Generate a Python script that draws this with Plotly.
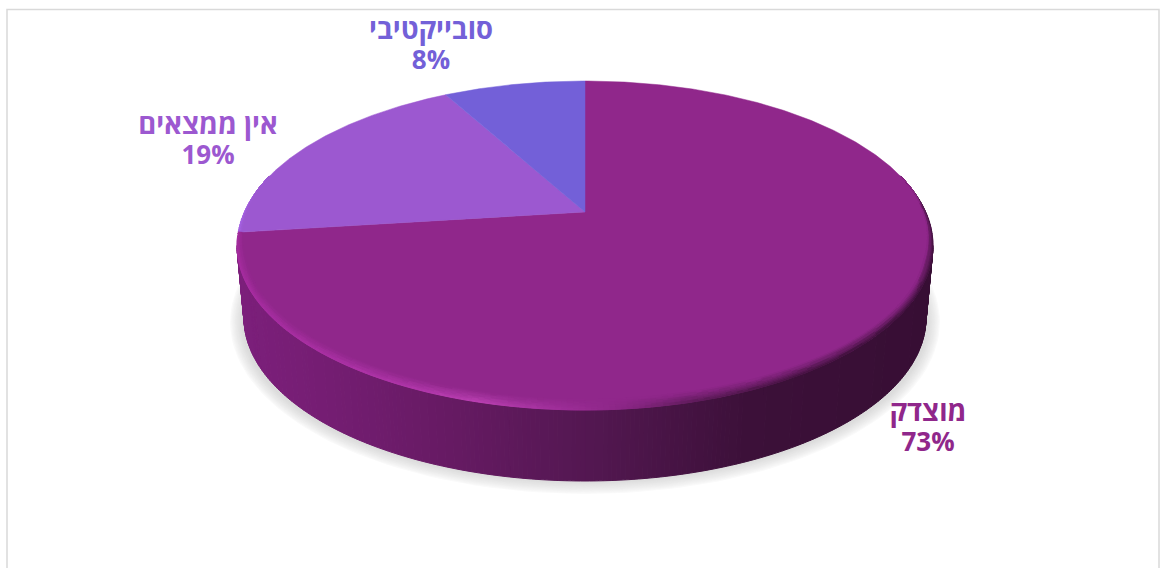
import math
import plotly.graph_objects as go

# Chart data
categories = ["מוצדק", "אין ממצאים", "סובייקטיבי"]
shares = [73, 19, 8]
slice_colors = ["#90278B", "#9C58D0", "#7360D8"]
label_positions = [(928, 430), (208, 143), (431, 48)]

# Canvas and disc geometry in screen pixels
WIDTH, HEIGHT = 1167, 568
APEX_X, APEX_Y = 585, 212
RISE_BACK, DROP_FRONT = 131, 198
TOP_RX = 348
TOP_CY, TOP_RY = (APEX_Y - RISE_BACK + APEX_Y + DROP_FRONT) / 2, (RISE_BACK + DROP_FRONT) / 2
BOTTOM_CY, BOTTOM_RX, BOTTOM_RY = 318, 341, 163

# Perspective terms that foreshorten the rear of the disc
C = (DROP_FRONT - RISE_BACK) / (DROP_FRONT + RISE_BACK)
A_Y = RISE_BACK * (1 + C)
A_X = TOP_RX * math.sqrt(1 - C * C)

WALL_STOPS = [(237, "#7C1F7B"), (330, "#741D72"), (450, "#661A63"), (600, "#521750"),
              (750, "#3C1039"), (933, "#370E34")]
RIM_STOPS = [(237, "#A92DA3"), (400, "#B236AB"), (480, "#BE42B6"), (560, "#A2309C"),
             (625, "#8A2685"), (700, "#5A1A56"), (800, "#40113C"), (933, "#3A0F37")]


def rgb(hex_color):
    return tuple(int(hex_color[i:i + 2], 16) for i in (1, 3, 5))


def to_hex(values):
    return "#%02X%02X%02X" % tuple(max(0, min(255, round(v))) for v in values)


def mix(c1, c2, f):
    a, b = rgb(c1), rgb(c2)
    return to_hex([a[i] + (b[i] - a[i]) * f for i in range(3)])


def ramp(stops, x):
    if x <= stops[0][0]:
        return stops[0][1]
    for (x0, c0), (x1, c1) in zip(stops, stops[1:]):
        if x <= x1:
            return mix(c0, c1, (x - x0) / (x1 - x0))
    return stops[-1][1]


def project(clock_deg):
    """Rim point for a clockwise angle measured from twelve o'clock."""
    a = math.radians(clock_deg)
    x, y = math.sin(a), math.cos(a)
    w = 1 + C * y
    return APEX_X + A_X * x / w, APEX_Y - A_Y * y / w


def polygon_trace(xs, ys, color, line_width=1):
    return go.Scatter(x=xs, y=ys, mode="lines", fill="toself", fillcolor=color,
                      line=dict(color=color, width=line_width), hoverinfo="skip",
                      showlegend=False)


def grouped_traces(groups):
    traces = []
    for color, quads in groups.items():
        xs, ys = [], []
        for quad in quads:
            xs += [p[0] for p in quad] + [quad[0][0], None]
            ys += [p[1] for p in quad] + [quad[0][1], None]
        traces.append(polygon_trace(xs, ys, color))
    return traces


fig = go.Figure()

# Soft ground shadow, built from the outside in
SHADOW_STEPS = 12
for k in range(SHADOW_STEPS + 1):
    f = k / SHADOW_STEPS
    rx, ry = 356 - 13 * f, 173 - 13 * f
    pts = [math.radians(d) for d in range(0, 361, 2)]
    fig.add_trace(polygon_trace([APEX_X + rx * math.cos(t) for t in pts],
                                [322 + ry * math.sin(t) for t in pts],
                                mix("#FFFFFF", "#DCDCDC", f ** 0.75), 0))

# Side wall, shaded from left to right
wall = {}
STEP = 0.75
for n in range(int(180 / STEP)):
    t0, t1 = math.radians(n * STEP), math.radians((n + 1) * STEP)
    quad = [(APEX_X + TOP_RX * math.cos(t0), TOP_CY + TOP_RY * math.sin(t0)),
            (APEX_X + TOP_RX * math.cos(t1), TOP_CY + TOP_RY * math.sin(t1)),
            (APEX_X + BOTTOM_RX * math.cos(t1), BOTTOM_CY + BOTTOM_RY * math.sin(t1)),
            (APEX_X + BOTTOM_RX * math.cos(t0), BOTTOM_CY + BOTTOM_RY * math.sin(t0))]
    wall.setdefault(ramp(WALL_STOPS, quad[0][0]), []).append(quad)
for trace in grouped_traces(wall):
    fig.add_trace(trace)

# Top face slices, clockwise from twelve o'clock
total = sum(shares)
start = 0.0
boundaries = []
for value, color in zip(shares, slice_colors):
    end = start + 360 * value / total
    boundaries.append((start, end))
    steps = max(4, int((end - start) * 2))
    rim = [project(start + (end - start) * i / steps) for i in range(steps + 1)]
    fig.add_trace(polygon_trace([APEX_X] + [p[0] for p in rim] + [APEX_X],
                                [APEX_Y] + [p[1] for p in rim] + [APEX_Y], color, 0.5))
    start = end

# Bevel along the front of the disc, fading inward into the face colour
first_x, first_y = project(boundaries[0][1])
split_t = math.degrees(math.atan2((first_y - TOP_CY) / TOP_RY, (first_x - APEX_X) / TOP_RX)) % 360
bevel = {}
LAYERS = 7
BEVEL_X, BEVEL_Y = 8, 11


def band_point(d, s):
    t = math.radians(d)
    taper = max(0.0, min(1.0, (math.sin(t) + 0.35) / 0.45))
    return (APEX_X + (TOP_RX - BEVEL_X * s * taper) * math.cos(t),
            TOP_CY + (TOP_RY - BEVEL_Y * s * taper) * math.sin(t))


deg = -25.0
while deg < 205:
    next_deg = deg + 1.0
    for j in range(LAYERS):
        s0, s1 = j / LAYERS, (j + 1) / LAYERS
        quad = [band_point(deg, s0), band_point(next_deg, s0),
                band_point(next_deg, s1), band_point(deg, s1)]
        x_mid = quad[0][0]
        if deg > split_t:
            edge, face = "#A864E8", slice_colors[1]
        else:
            edge, face = ramp(RIM_STOPS, x_mid), slice_colors[0]
        color = mix(edge, face, ((j + 0.5) / LAYERS) ** 0.9)
        bevel.setdefault(color, []).append(quad)
    deg = next_deg
for trace in grouped_traces(bevel):
    fig.add_trace(trace)

# Category names and percentages; each label is one two-line text block
for name, value, color, (x, y) in zip(categories, shares, slice_colors, label_positions):
    label = (f'<span style="font-size:27.4px">{name}</span><br>'
             f'<span style="font-size:26px">{value}%</span>')
    fig.add_trace(go.Scatter(x=[x], y=[y], mode="text", text=[label],
                             textposition="middle center",
                             textfont=dict(family="Open Sans, Liberation Sans, sans-serif",
                                           size=23, color=color, weight="bold"),
                             hoverinfo="skip", showlegend=False))

fig.update_layout(
    width=WIDTH, height=HEIGHT, margin=dict(l=0, r=0, t=0, b=0),
    paper_bgcolor="white", plot_bgcolor="white", showlegend=False,
    xaxis=dict(range=[0, WIDTH], visible=False, fixedrange=True),
    yaxis=dict(range=[HEIGHT, 0], visible=False, fixedrange=True),
    shapes=[dict(type="rect", xref="x", yref="y", x0=7, x1=1159, y0=9.5, y1=620,
                 line=dict(color="#D9D9D9", width=1.5), layer="below")],
)

fig.write_html("out.html")
